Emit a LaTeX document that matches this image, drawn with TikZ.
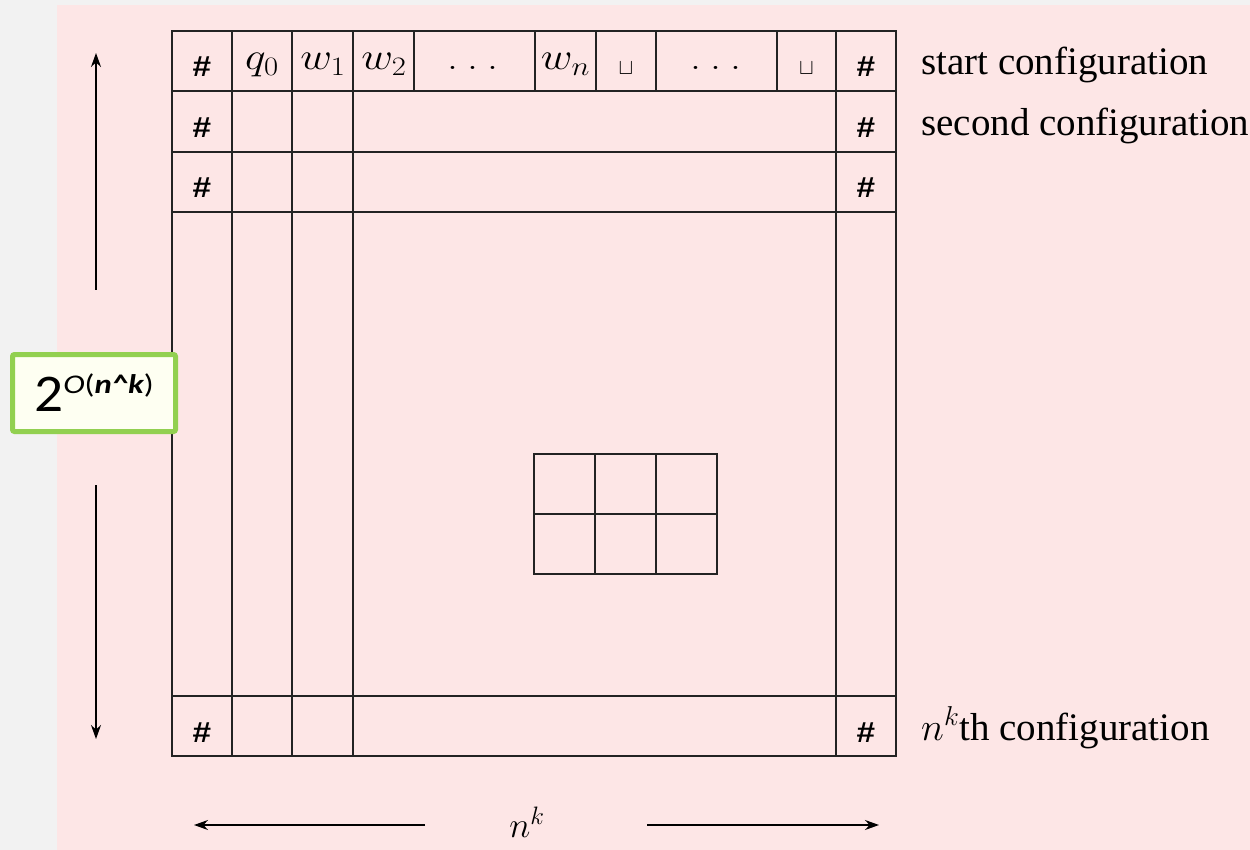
\documentclass[tikz,border=0pt]{standalone}
\usepackage{fix-cm}
\usepackage{graphicx}
\usepackage{fontspec}
\newfontfamily\labelfont{Liberation Serif}
\newfontfamily\boxfont{Carlito}
\newfontfamily\hashfont{Liberation Sans}
\usetikzlibrary{arrows.meta}
\definecolor{bgpink}{RGB}{253,230,230}
\definecolor{bggray}{RGB}{242,242,242}
\definecolor{boxgreen}{RGB}{146,208,80}
\definecolor{boxfill}{RGB}{254,255,242}
\definecolor{linecol}{RGB}{35,35,35}
\newcommand{\widen}[1]{\scalebox{1.15}[1]{#1}}
\newcommand{\spaceddots}{.\kern0.2em.\kern0.2em.}
\begin{document}
\begin{tikzpicture}[x=1pt,y=-1pt,
  gridline/.style={line width=1.3pt, draw=linecol},
  hashlbl/.style={anchor=base, font=\hashfont\bfseries\fontsize{29}{34}\selectfont, inner sep=0pt},
  celllbl/.style={anchor=base, font=\fontsize{38}{44}\selectfont, inner sep=0pt},
  cuplbl/.style={anchor=base, font=\fontsize{22}{26}\selectfont, inner sep=0pt},
  rowlbl/.style={anchor=base west, font=\labelfont\fontsize{39}{46}\selectfont, inner sep=0pt},
  dimarrow/.style={line width=1.4pt, draw=black, -{Stealth[length=14pt,width=10pt]}},
  sizebox/.style={draw=boxgreen, fill=boxfill, line width=5pt, rounded corners=2pt,
    minimum width=163pt, minimum height=77pt, inner sep=0pt}
]
% background
\fill[bggray] (0,0) rectangle (1250,850);
\fill[bgpink] (57,5) rectangle (1250,850);
\useasboundingbox (0,0) rectangle (1250,850);

% main grid
\draw[gridline] (172,31) rectangle (896,756);
\foreach \yy in {91,152,212,696} \draw[gridline] (172,\yy) -- (896,\yy);
\foreach \xx in {232,292,353,836} \draw[gridline] (\xx,31) -- (\xx,756);
\foreach \xx in {414,535,596,656,777} \draw[gridline] (\xx,31) -- (\xx,91);

% small grid
\draw[gridline] (534,454) rectangle (717,574);
\draw[gridline] (534,514) -- (717,514);
\foreach \xx in {595,656} \draw[gridline] (\xx,454) -- (\xx,574);

% hash marks
\node[hashlbl] (hl1) at (202,77) {\widen{\#}};
\node[hashlbl] (hl2) at (202,137.5) {\widen{\#}};
\node[hashlbl] (hl3) at (202,198) {\widen{\#}};
\node[hashlbl] (hl4) at (202,742) {\widen{\#}};
\node[hashlbl] (hr1) at (866,77) {\widen{\#}};
\node[hashlbl] (hr2) at (866,137.5) {\widen{\#}};
\node[hashlbl] (hr3) at (866,198) {\widen{\#}};
\node[hashlbl] (hr4) at (866,742) {\widen{\#}};

% first row contents
\node[celllbl] (q0) at (262,70) {\widen{$q_0$}};
\node[celllbl] (w1) at (323,70) {\widen{$w_1$}};
\node[celllbl] (w2) at (384,70) {\widen{$w_2$}};
\node[celllbl] (d1) at (473,70) {\widen{\spaceddots}};
\node[celllbl] (wn) at (565.5,70) {\widen{$w_n$}};
\node[cuplbl] (b1) at (626,75) {$\sqcup$};
\node[celllbl] (d2) at (716,70) {\widen{\spaceddots}};
\node[cuplbl] (b2) at (806.5,75) {$\sqcup$};

% row labels
\node[rowlbl] (startcfg) at (921,75) {start configuration};
\node[rowlbl] (secondcfg) at (921,135.5) {second configuration};
\node[rowlbl] (lastcfg) at (921,740) {$n^k$th configuration};

% dimension arrows
\coordinate (vup0) at (96,290); \coordinate (vup1) at (96,53);
\coordinate (vdn0) at (96,485); \coordinate (vdn1) at (96,739);
\coordinate (hl0) at (425,825); \coordinate (hl1e) at (194,825);
\coordinate (hr0) at (647,825); \coordinate (hr1e) at (879,825);
\draw[dimarrow] (vup0) -- (vup1);
\draw[dimarrow] (vdn0) -- (vdn1);
\draw[dimarrow] (hl0) -- (hl1e);
\draw[dimarrow] (hr0) -- (hr1e);
\node[font=\fontsize{36}{40}\selectfont] (nk) at (527,822) {$n^k$};

% size box
\node[sizebox, font=\boxfont\fontsize{53}{60}\selectfont] (gbox) at (94,393)
  {\scalebox{1.08}[1]{2\raisebox{18pt}{\fontsize{27}{32}\selectfont\scalebox{1.12}[1]{\itshape O\upshape(\bfseries\itshape n\textasciicircum k\upshape\mdseries)}}}};
\end{tikzpicture}
\end{document}
